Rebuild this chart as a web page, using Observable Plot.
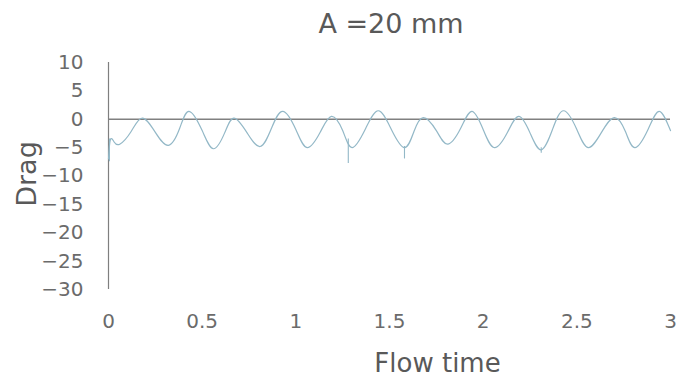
<!DOCTYPE html>
<html><head><meta charset="utf-8">
<script src="https://cdn.jsdelivr.net/npm/d3@7"></script>
<script src="https://cdn.jsdelivr.net/npm/@observablehq/plot@0.6"></script>
<style>
body{margin:0;background:#fff;font-family:"DejaVu Sans",sans-serif;}
#wrap{position:relative;width:676px;height:376px;}
#title{position:absolute;left:291px;width:200px;top:6px;text-align:center;font-size:27px;color:#595959;line-height:36px;white-space:nowrap;}
g[aria-label$="tick label"]{font-size:20px;fill:#6b6b6b;}
</style></head>
<body><div id="wrap"><div id="title">A =20 mm</div><div id="chart"></div></div>
<script>
const flowTime = [0,0.01,0.03,0.06,0.12,0.18,0.25,0.32,0.38,0.43,0.50,0.56,0.62,0.67,0.74,0.81,0.87,0.93,1.00,1.06,1.13,1.19,1.25,1.30,1.37,1.44,1.51,1.58,1.63,1.68,1.75,1.81,1.88,1.94,2.00,2.06,2.13,2.19,2.25,2.31,2.37,2.43,2.50,2.56,2.63,2.70,2.76,2.81,2.88,2.94,3.0];
const drag     = [-7,-3.6,-4.0,-4.4,-2.2,0.2,-2.3,-4.6,-1.6,1.4,-2.0,-5.2,-2.4,0.2,-2.4,-4.8,-1.6,1.4,-1.8,-5.0,-2.3,0.5,-2.0,-5.0,-1.8,1.5,-1.8,-5.0,-2.2,0.3,-2.0,-4.4,-1.6,1.4,-1.8,-5.0,-2.3,0.5,-2.4,-5.4,-1.8,1.5,-1.8,-5.0,-2.4,0.3,-2.2,-5.0,-1.8,1.4,-2.0];
// short spikes visible in the trace
const spikeTime = [0.005,1.28,1.58,2.31];
const spikeTop  = [-3.5,-3.5,-4.8,-5.0];
const spikeLow  = [-7.5,-7.8,-7.0,-6.0];
const yTicks = [10,5,0,-5,-10,-15,-20,-25,-30];
const xTicks = [0,0.5,1,1.5,2,2.5,3];
const data = flowTime.map((t,i)=>({t, d: drag[i]}));
const spikes = spikeTime.map((t,i)=>({t, a: spikeTop[i], b: spikeLow[i]}));
const ff = '"DejaVu Sans",sans-serif';
const lineColor = "#93b8c7";
const chart = Plot.plot({
  width: 676, height: 376,
  marginLeft: 108, marginRight: 6, marginTop: 62, marginBottom: 87,
  style: {fontFamily: ff, color: "#6b6b6b", background: "#fff", overflow: "visible"},
  x: {domain: [0,3]},
  y: {domain: [-30,10]},
  marks: [
    Plot.axisX({ticks: xTicks, tickSize: 0, tickPadding: 24, tickFormat: d => String(d), label: null}),
    Plot.axisY({ticks: yTicks, tickSize: 0, tickPadding: 25, label: null}),
    Plot.ruleX([0], {stroke: "#7f7f7f", strokeWidth: 1.2}),
    Plot.ruleY([0], {stroke: "#808080", strokeWidth: 1.6}),
    Plot.line(data, {x: "t", y: "d", stroke: lineColor, strokeWidth: 1.2, curve: "natural"}),
    Plot.ruleX(spikes, {x: "t", y1: "a", y2: "b", stroke: lineColor, strokeWidth: 1.1}),
    Plot.text(["Flow time"], {frameAnchor: "bottom", dx: 48, dy: 82, fontSize: 26, fill: "#595959", textAnchor: "middle", fontFamily: ff}),
    Plot.text(["Drag"], {frameAnchor: "left", dx: -81, dy: -2, rotate: -90, textAnchor: "middle", fontSize: 27, fill: "#595959", fontFamily: ff})
  ]
});
document.getElementById("chart").appendChild(chart);
</script></body></html>
